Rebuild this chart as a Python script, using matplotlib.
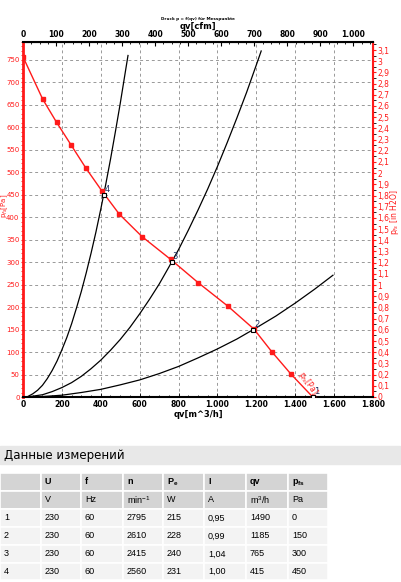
import numpy as np
import matplotlib
matplotlib.use("Agg")
from matplotlib import pyplot as plt
from matplotlib.ticker import MultipleLocator, FuncFormatter

# fan curve pfs = f(qv)
fan_qv = [0, 101, 173, 247, 324, 405, 495, 612, 760, 902, 1054, 1188, 1279, 1378, 1490]
fan_pfs = [757, 663, 611, 561, 509, 459, 407, 357, 306, 254, 202, 151, 101, 51, 0]

# system curves through the measuring points
sys1_qv = [20, 50, 75, 100, 125, 150, 175, 200, 225, 250, 275, 300, 325, 350, 375, 400, 425, 450, 475, 500, 525, 540]
sys1_p = [0, 7, 15, 26, 41, 59, 80, 105, 132, 163, 198, 235, 276, 320, 367, 418, 472, 529, 590, 653, 720, 760]
sys2_qv = [20, 100, 150, 200, 250, 300, 350, 400, 450, 500, 550, 600, 650, 700, 750, 800, 850, 900, 950,
           1000, 1050, 1100, 1150, 1200, 1225]
sys2_p = [0, 5, 12, 21, 32, 46, 63, 82, 104, 128, 155, 185, 217, 251, 289, 328, 371, 416, 463,
          513, 566, 621, 678, 739, 770]
sys3_qv = [30, 100, 200, 300, 400, 500, 600, 700, 800, 900, 1000, 1100, 1200, 1300, 1400, 1500, 1594]
sys3_p = [0, 1, 4, 10, 17, 27, 38, 52, 68, 87, 107, 129, 154, 180, 209, 240, 271]

# measuring points (table)
rows = ["1", "2", "3", "4"]
U = ["230", "230", "230", "230"]
f = ["60", "60", "60", "60"]
n = ["2795", "2610", "2415", "2560"]
Pe = ["215", "228", "240", "231"]
I = ["0,95", "0,99", "1,04", "1,00"]
qv = [1490, 1185, 765, 415]
pfs = [0, 150, 300, 450]

head1 = ["", "U", "f", "n", "P$_\\mathregular{e}$", "I", "qv", "p$_\\mathregular{fs}$"]
head2 = ["", "V", "Hz", "min$^{\\mathregular{-1}}$", "W", "A", "m$^{\\mathregular{3}}$/h", "Pa"]

red = "#ff1a1a"
fig = plt.figure(figsize=(4.02, 5.82), dpi=100)
ax = fig.add_axes([23 / 402, 185 / 582, 350 / 402, 355 / 582])

ax.plot(fan_qv, fan_pfs, color=red, lw=1.0, marker="s", ms=2.5, zorder=4)
for xs, ys in [(sys1_qv, sys1_p), (sys2_qv, sys2_p), (sys3_qv, sys3_p)]:
    ax.plot(xs, ys, color="black", lw=0.9, zorder=3)

ax.plot(qv, pfs, ls="none", marker="s", ms=3.5, mfc="white", mec="black", mew=0.8, zorder=5)
for lab, x, y in zip(rows, qv, pfs):
    ax.text(x + 5, y + 6, lab, fontsize=6, color="#223366", zorder=6)

ax.set_xlim(0, 1800)
ax.set_ylim(0, 790)
ax.xaxis.set_major_locator(MultipleLocator(200))
ax.xaxis.set_minor_locator(MultipleLocator(50))
ax.yaxis.set_major_locator(MultipleLocator(50))
ax.yaxis.set_minor_locator(MultipleLocator(10))
ax.grid(True, which="major", ls=(0, (3, 3)), color="#999999", lw=0.7)

dot = lambda v, p: f"{int(round(v)):,}".replace(",", ".")
ax.xaxis.set_major_formatter(FuncFormatter(dot))
ax.tick_params(axis="x", which="both", direction="in", labelsize=5.5, length=3, width=0.6, pad=2)
for t in ax.get_xticklabels():
    t.set_fontweight("bold")
ax.tick_params(axis="y", which="both", labelsize=5, colors=red, length=1.5, pad=1)
ax.tick_params(axis="x", which="minor", length=1.5)
ax.set_xlabel("qv[m^3/h]", fontsize=6, fontweight="bold", labelpad=1)

for s in ["top", "bottom"]:
    ax.spines[s].set_linewidth(1.5)
ax.spines["left"].set_color(red)
ax.spines["left"].set_linewidth(2)
ax.spines["right"].set_color(red)
ax.spines["right"].set_linewidth(1.5)

ax.text(1465, 30, "p$_{fs}$[Pa]", fontsize=5.5, color=red, rotation=-55, ha="center", va="center", zorder=6)

# top axis in cfm
top = ax.secondary_xaxis("top", functions=(lambda q: q / 1.699, lambda c: c * 1.699))
top.xaxis.set_major_locator(MultipleLocator(100))
top.xaxis.set_minor_locator(MultipleLocator(25))
top.xaxis.set_major_formatter(FuncFormatter(dot))
top.tick_params(which="both", direction="in", labelsize=5.5, length=3, pad=2)
top.tick_params(which="minor", length=1.5)
for t in top.get_xticklabels():
    t.set_fontweight("bold")
top.set_xlabel("qv[cfm]", fontsize=6, fontweight="bold", labelpad=1)

# right axis in in. H2O
right = ax.secondary_yaxis("right", functions=(lambda p: p / 249.09, lambda h: h * 249.09))
right.yaxis.set_major_locator(MultipleLocator(0.1))
right.yaxis.set_minor_locator(MultipleLocator(0.05))
right.yaxis.set_major_formatter(FuncFormatter(lambda v, p: f"{v:.1f}".rstrip("0").rstrip(".").replace(".", ",")))
right.tick_params(labelsize=5.5, colors=red, length=2, pad=1)
right.spines["right"].set_color(red)

# axis titles placed in figure pixels
fig.text(5 / 402, 1 - 206 / 582, "p$_{fs}$[Pa]", fontsize=5, color=red, rotation=90,
         ha="center", va="center")
fig.text(395 / 402, 1 - 212 / 582, "p$_{fs}$ [in H2O]", fontsize=5.5, color=red, rotation=90,
         ha="center", va="center")

fig.text(198 / 402, 1 - 19 / 582, "Druck p = f(qv) für Messpunkte", fontsize=3, fontweight="bold",
         ha="center", va="center")

# measurement data table
fig.patches.append(plt.Rectangle((0, 1 - 464 / 582), 400 / 402, 18 / 582, transform=fig.transFigure,
                                 color="#e8e8e8", zorder=0))
fig.text(4 / 402, 1 - 455 / 582, "Данные измерений", fontsize=8.5, ha="left", va="center")

col_x = [0, 41, 81, 123, 163, 204, 246, 288, 328]
row_y = [473, 491, 509, 527, 545, 563, 580]
table = [head1, head2] + [[r, u, ff, nn, pe, ii, str(q), str(p)]
                          for r, u, ff, nn, pe, ii, q, p in zip(rows, U, f, n, Pe, I, qv, pfs)]
for ri, row in enumerate(table):
    y0, y1 = row_y[ri], row_y[ri + 1]
    for ci, val in enumerate(row):
        x0, x1 = col_x[ci], col_x[ci + 1]
        fc = "#d4d4d4" if ri < 2 else "#f3f3f3"
        fig.patches.append(plt.Rectangle((x0 / 402, 1 - y1 / 582), (x1 - x0) / 402, (y1 - y0) / 582,
                                         transform=fig.transFigure, fc=fc, ec="white", lw=1.2))
        fig.text((x0 + 4) / 402, 1 - (y0 + y1) / 2 / 582, val, fontsize=6.5, ha="left", va="center",
                 fontweight="bold" if ri == 0 else "normal", family="Liberation Sans")

fig.savefig("out.png", dpi=100)
